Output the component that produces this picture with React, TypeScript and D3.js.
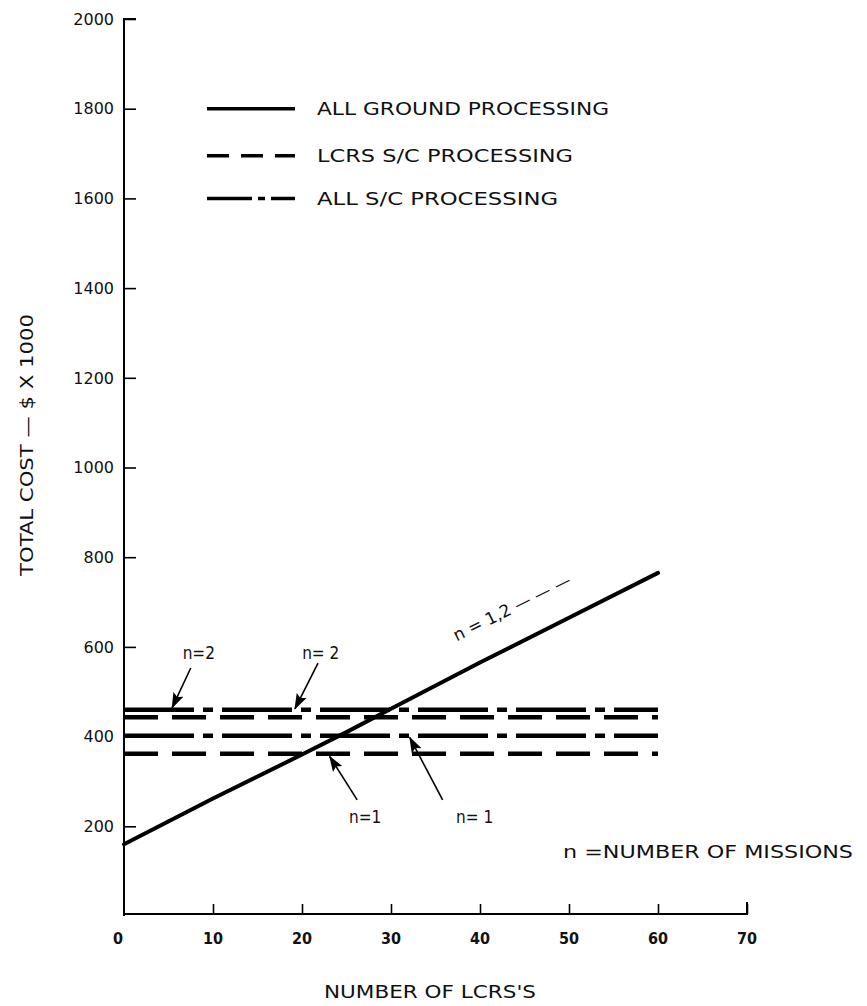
import React, { useEffect, useRef } from "react";
import * as d3 from "d3";

// axis ticks
const xTickValues = [0, 10, 20, 30, 40, 50, 60, 70];
const yTickValues = [200, 400, 600, 800, 1000, 1200, 1400, 1600, 1800, 2000];

// all ground processing (n = 1,2): cost vs number of LCRS's
const groundLcrs = [0, 10, 20, 25, 30, 40, 50, 60];
const groundCost = [160, 262, 360, 410, 462, 565, 665, 765];

// spacecraft processing options are flat in number of LCRS's
const flatProcess = ["ALL S/C", "LCRS S/C", "ALL S/C", "LCRS S/C"];
const flatMissions = [2, 2, 1, 1];
const flatCost = [460, 443, 402, 362];
const flatRange = [0, 60];

const legendLabels = ["ALL GROUND PROCESSING", "LCRS S/C PROCESSING", "ALL S/C PROCESSING"];
const legendKeys = ["GROUND", "LCRS S/C", "ALL S/C"];

// callouts, in data units: label point, arrow tail, arrow head
const callouts = [
  { text: "n=2", lx: 8.4, ly: 586, tx: 7.5, ty: 553, hx: 5.4, hy: 464 },
  { text: "n= 2", lx: 22.1, ly: 586, tx: 21.8, ty: 564, hx: 19.2, hy: 462 },
  { text: "n=1", lx: 27.1, ly: 222, tx: 26.2, ty: 259, hx: 23.1, hy: 356 },
  { text: "n= 1", lx: 39.4, ly: 222, tx: 35.8, ty: 259, hx: 32.1, hy: 398 },
];

const W = 867, H = 1006;

const dashFor: Record<string, string> = {
  "GROUND": "none",
  "LCRS S/C": "34 14",
  "ALL S/C": "70 9 10 9",
};
const legendDash: Record<string, string> = {
  "GROUND": "none",
  "LCRS S/C": "22 12",
  "ALL S/C": "45 6 7 6",
};

const condensed = "'DejaVu Sans Condensed', 'DejaVu Sans', sans-serif";
const wide = "'DejaVu Sans', Verdana, sans-serif";

function Chart() {
  const ref = useRef<SVGSVGElement | null>(null);

  useEffect(() => {
    const svg = d3.select(ref.current);
    svg.selectAll("*").remove();

    const x = d3.scaleLinear().domain([0, 70]).range([124, 747]);
    const y = d3.scaleLinear().domain([0, 2000]).range([916, 19]);

    svg.append("rect").attr("width", W).attr("height", H).attr("fill", "#fff");

    svg.append("defs").append("marker")
      .attr("id", "head")
      .attr("markerUnits", "userSpaceOnUse")
      .attr("viewBox", "0 0 16 12")
      .attr("markerWidth", 16)
      .attr("markerHeight", 12)
      .attr("refX", 15)
      .attr("refY", 6)
      .attr("orient", "auto")
      .append("path")
      .attr("d", "M0,0.5 L16,6 L0,11.5 L3,6 Z")
      .attr("fill", "#000");

    // y axis
    const yAxis = d3.axisRight(y).tickValues(yTickValues).tickSize(12).tickFormat(() => "");
    const ga = svg.append("g").attr("transform", `translate(${x(0)},0)`).call(yAxis);
    ga.select(".domain").attr("d", `M12,${y(2000)}H0V${y(0)}`).attr("stroke-width", 2);
    ga.selectAll(".tick line").attr("stroke-width", 1.6);

    svg.append("g").selectAll("text").data(yTickValues).join("text")
      .attr("x", 114)
      .attr("y", d => y(d))
      .attr("dy", "0.36em")
      .attr("text-anchor", "end")
      .attr("font-family", wide)
      .attr("font-size", 16)
      .attr("fill", "#111")
      .text(d => d);

    // x axis
    const xAxis = d3.axisTop(x).tickValues(xTickValues.filter(d => d > 0)).tickSize(10).tickFormat(() => "");
    const gx = svg.append("g").attr("transform", `translate(0,${y(0) - 2})`).call(xAxis);
    gx.select(".domain").attr("d", `M${x(0)},0H${x(70)}V-12`).attr("stroke-width", 2);
    gx.selectAll(".tick line").attr("stroke-width", 1.6);

    svg.append("g").selectAll("text").data(xTickValues).join("text")
      .attr("x", d => x(d) - (d === 0 ? 6 : 0))
      .attr("y", 938)
      .attr("dy", "0.36em")
      .attr("text-anchor", "middle")
      .attr("font-family", condensed)
      .attr("font-weight", "bold")
      .attr("font-size", 16)
      .attr("fill", "#111")
      .text(d => d);

    // flat spacecraft lines
    flatCost.forEach((c, i) => {
      svg.append("path")
        .datum(flatRange)
        .attr("d", d3.line<number>().x(d => x(d)).y(() => y(c)))
        .attr("fill", "none")
        .attr("stroke", "#000")
        .attr("stroke-width", 4.5)
        .attr("stroke-dasharray", dashFor[flatProcess[i]])
        .attr("data-missions", flatMissions[i]);
    });

    // ground processing line
    const groundLine = d3.line<number>().x(d => x(d)).y((_, i) => y(groundCost[i]));
    svg.append("path")
      .datum(groundLcrs)
      .attr("d", groundLine)
      .attr("fill", "none")
      .attr("stroke", "#000")
      .attr("stroke-width", 4)
      .attr("stroke-linecap", "round");

    // rotated note along the ground line
    svg.append("text")
      .attr("transform", `translate(${x(37.4)},${y(612)}) rotate(-26.5)`)
      .attr("font-family", condensed)
      .attr("font-size", 17)
      .attr("textLength", 129)
      .attr("lengthAdjust", "spacingAndGlyphs")
      .attr("fill", "#111")
      .text("n = 1,2 — — —");

    // callouts
    callouts.forEach(c => {
      svg.append("line")
        .attr("x1", x(c.tx)).attr("y1", y(c.ty))
        .attr("x2", x(c.hx)).attr("y2", y(c.hy))
        .attr("stroke", "#000")
        .attr("stroke-width", 1.6)
        .attr("marker-end", "url(#head)");
      svg.append("text")
        .attr("x", x(c.lx))
        .attr("y", y(c.ly))
        .attr("dy", "0.36em")
        .attr("text-anchor", "middle")
        .attr("font-family", condensed)
        .attr("font-size", 17)
        .attr("fill", "#111")
        .text(c.text);
    });

    // legend
    const legendTextLen = [292, 256, 241];
    const lg = svg.append("g");
    legendLabels.forEach((lab, i) => {
      const ly = [y(1800), y(1695), y(1600)][i];
      lg.append("line")
        .attr("x1", 207).attr("x2", 295)
        .attr("y1", ly).attr("y2", ly)
        .attr("stroke", "#000")
        .attr("stroke-width", 3.5)
        .attr("stroke-dasharray", legendDash[legendKeys[i]]);
      lg.append("text")
        .attr("x", 317)
        .attr("y", ly)
        .attr("dy", "0.36em")
        .attr("font-family", wide)
        .attr("font-size", 18)
        .attr("textLength", legendTextLen[i])
        .attr("lengthAdjust", "spacingAndGlyphs")
        .attr("fill", "#111")
        .text(lab);
    });

    // note on n
    svg.append("text")
      .attr("x", 563)
      .attr("y", 852)
      .attr("dy", "0.36em")
      .attr("font-family", condensed)
      .attr("font-size", 17)
      .attr("textLength", 290)
      .attr("lengthAdjust", "spacingAndGlyphs")
      .attr("fill", "#111")
      .text("n  =NUMBER OF MISSIONS");

    // axis titles
    svg.append("text")
      .attr("x", 430)
      .attr("y", 992)
      .attr("dy", "0.36em")
      .attr("text-anchor", "middle")
      .attr("font-family", condensed)
      .attr("font-size", 17)
      .attr("textLength", 212)
      .attr("lengthAdjust", "spacingAndGlyphs")
      .attr("fill", "#111")
      .text("NUMBER OF LCRS'S");

    svg.append("text")
      .attr("transform", `translate(27,445) rotate(-90)`)
      .attr("dy", "0.36em")
      .attr("text-anchor", "middle")
      .attr("font-family", condensed)
      .attr("font-size", 17)
      .attr("textLength", 262)
      .attr("lengthAdjust", "spacingAndGlyphs")
      .attr("fill", "#111")
      .text("TOTAL COST — $ X 1000");
  }, []);

  return <svg ref={ref} width={W} height={H} style={{ position: "absolute", left: 0, top: 0 }} />;
}

export default function App() {
  return <Chart />;
}
